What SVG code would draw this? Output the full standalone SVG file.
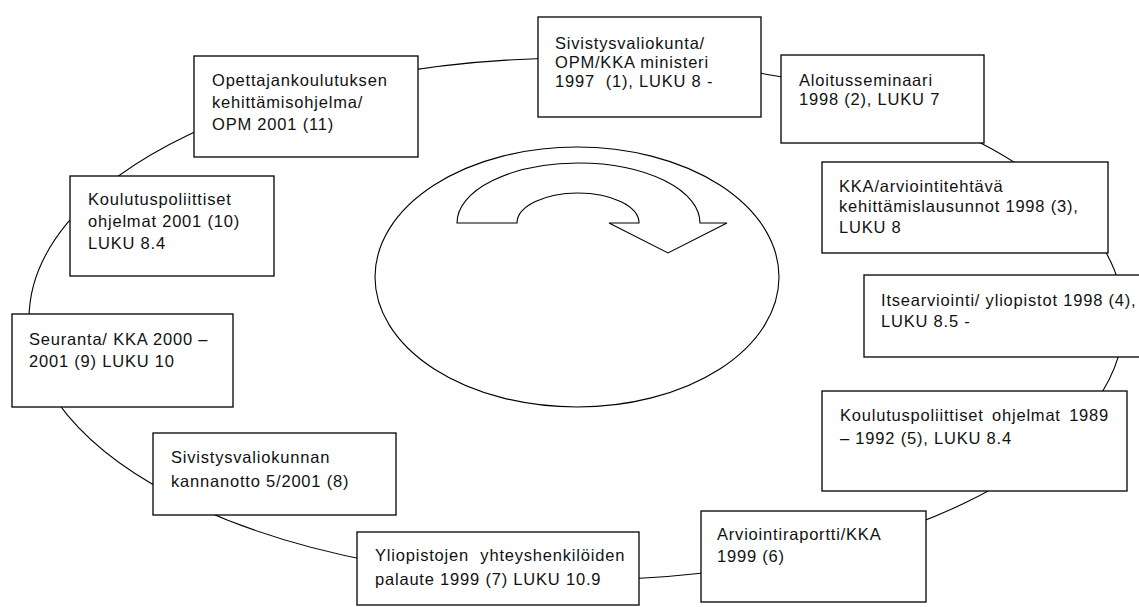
<svg xmlns="http://www.w3.org/2000/svg" width="1139" height="607" viewBox="0 0 1139 607">
<style>
.box{fill:#fff;stroke:#000;stroke-width:1.3}
.ring{fill:none;stroke:#000;stroke-width:1.1}
text{font-family:"Liberation Sans",Arial,sans-serif;font-size:16.5px;letter-spacing:0.8px;fill:#111}
</style>
<rect width="1139" height="607" fill="#fff"/>
<g id="connectors">
<ellipse class="ring" cx="576.5" cy="319" rx="547.5" ry="261"/>
</g>
<g id="center">
<ellipse class="ring" cx="577" cy="277" rx="202" ry="130"/>
<path class="ring" d="M457,223 L517,223 A61,30 0 0 1 639,223 L609,223 L668,253 L727,223 L700,223 A121.5,60 0 0 0 457,223 Z"/>
</g>
<g id="n1"><rect class="box" x="538" y="17" width="223" height="100"/>
<text x="555" y="48.5">Sivistysvaliokunta/</text><text x="555" y="67.5">OPM/KKA ministeri</text><text x="555" y="87" xml:space="preserve">1997  (1), LUKU 8 -</text></g>
<g id="n2"><rect class="box" x="781" y="55" width="203" height="88"/>
<text x="799" y="86">Aloitusseminaari</text><text x="799" y="105">1998 (2), LUKU 7</text></g>
<g id="n3"><rect class="box" x="822" y="162" width="286" height="91"/>
<text x="839" y="192">KKA/arviointitehtävä</text><text x="839" y="212">kehittämislausunnot 1998 (3),</text><text x="839" y="233">LUKU 8</text></g>
<g id="n4"><rect class="box" x="864" y="275" width="290" height="82"/>
<text x="881" y="306">Itsearviointi/ yliopistot 1998 (4),</text><text x="881" y="327">LUKU 8.5 -</text></g>
<g id="n5"><rect class="box" x="822" y="391" width="305" height="100"/>
<text x="840" y="421" style="word-spacing:3px">Koulutuspoliittiset ohjelmat 1989</text><text x="840" y="444">– 1992 (5), LUKU 8.4</text></g>
<g id="n6"><rect class="box" x="701" y="511" width="225" height="91"/>
<text x="717" y="540">Arviointiraportti/KKA</text><text x="717" y="562">1999 (6)</text></g>
<g id="n7"><rect class="box" x="357" y="532" width="282" height="73"/>
<text x="375" y="561" style="word-spacing:6px">Yliopistojen yhteyshenkilöiden</text><text x="375" y="585">palaute 1999 (7) LUKU 10.9</text></g>
<g id="n8"><rect class="box" x="153" y="433" width="243" height="82"/>
<text x="171" y="463">Sivistysvaliokunnan</text><text x="171" y="487">kannanotto 5/2001 (8)</text></g>
<g id="n9"><rect class="box" x="12" y="314" width="221" height="93"/>
<text x="29" y="345">Seuranta/ KKA 2000 –</text><text x="29" y="367">2001 (9) LUKU 10</text></g>
<g id="n10"><rect class="box" x="70" y="176" width="204" height="100"/>
<text x="88" y="205">Koulutuspoliittiset</text><text x="88" y="227">ohjelmat 2001 (10)</text><text x="88" y="249">LUKU 8.4</text></g>
<g id="n11"><rect class="box" x="194" y="56" width="224" height="101"/>
<text x="212" y="86">Opettajankoulutuksen</text><text x="212" y="108">kehittämisohjelma/</text><text x="212" y="130">OPM 2001 (11)</text></g>
</svg>
